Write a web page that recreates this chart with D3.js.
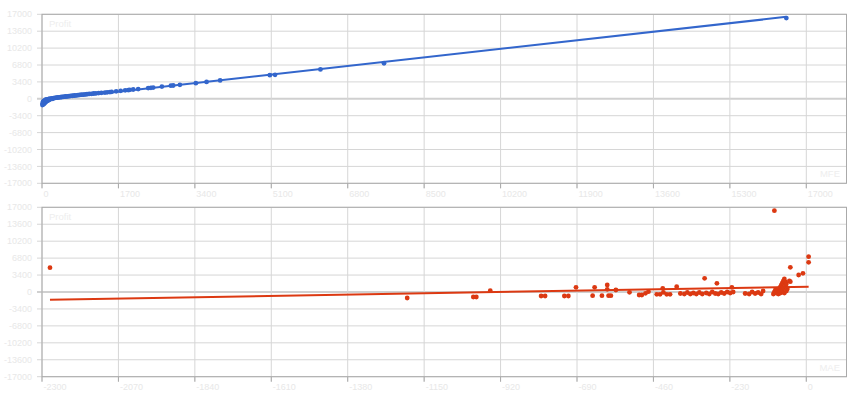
<!DOCTYPE html>
<html><head><meta charset="utf-8">
<script src="https://cdn.jsdelivr.net/npm/d3@7/dist/d3.min.js"></script>
<style>
body{margin:0;background:#fff}
text{font-family:Arial,"Liberation Sans",sans-serif}
</style>
</head><body>
<svg id="c" width="860" height="400"></svg>
<script>
// ---- data ----
const yTicks = [17000, 13600, 10200, 6800, 3400, 0, -3400, -6800, -10200, -13600, -17000];
const mfeTicks = [0, 1700, 3400, 5100, 6800, 8500, 10200, 11900, 13600, 15300, 17000];
const maeTicks = [-2300, -2070, -1840, -1610, -1380, -1150, -920, -690, -460, -230, 0];

// Top panel: Profit vs MFE
const mfe = [10,25,15,40,30,55,20,45,70,35,60,85,50,75,100,65,90,120,80,110,140,95,130,160,150,180,200,170,220,240,
  260,290,320,350,380,410,440,470,500,530,560,600,640,680,720,760,800,840,880,920,960,1000,1050,1100,1150,1200,1260,1320,
  1400,1450,1511,1550,1650,1750,1850,1918,1950,2029,2140,2362,2422,2473,2666,2866,2918,3067,3422,3660,3962,5067,5184,6193,7607,16556];
const profitMfe = [-1250,-1100,-950,-1050,-800,-900,-650,-700,-750,-500,-550,-600,-400,-450,-500,-300,-350,-400,-200,-250,-300,-100,-150,-200,-50,-100,-20,40,80,10,
  150,180,230,260,300,330,360,400,430,470,500,530,580,610,660,690,740,770,820,850,900,930,980,1010,1070,1100,1160,1200,
  1250,1300,1360,1400,1500,1600,1700,1760,1800,1870,1950,2150,2200,2250,2450,2640,2680,2820,3150,3400,3700,4750,4820,5900,7150,16250];

// Bottom panel: Profit vs MAE
const mae = [-2276,-1201,-1002,-993,-951,-798,-786,-728,-716,-693,-643,-637,-615,-595,-588,-599,-599,-573,-532,-503,-495,-484,-475,
  -450,-440,-430,-420,-410,-432,-390,-379,-367,-358,-349,-340,-331,-322,-313,-306,-301,-292,-283,-274,-269,-265,-256,-247,-238,-229,-224,-220,
  -184,-172,-163,-154,-145,-136,-130,-96,-99,-96,-93,-90,-87,-84,-84,-81,-78,-78,-75,-75,-72,-72,-69,-69,-66,-66,-63,-63,-60,-57,-51,-48,-60,-48,-23,-10,7,7];
const profitMae = [4877,-1204,-1004,-1004,261,-803,-803,-803,-803,943,-743,943,-743,-743,-743,1405,542,401,-60,-602,-602,-261,60,
  -462,-462,-60,-462,-462,743,1064,-301,-401,-100,-401,-200,-401,-100,-401,2750,-200,-401,0,-301,1746,-401,-100,-301,0,-200,943,0,
  -301,-401,0,-301,-100,-401,200,16317,-401,0,401,-200,200,602,-401,0,1004,-200,1405,401,1806,0,2208,803,2609,-200,2007,1204,1606,602,2208,4957,200,2067,3412,3753,7085,5961];

// ---- drawing ----
const svg = d3.select("#c");
const L = 42, R = 846.5;
const faint = "#e8e8e8";

function panel(top, bottom, xDomain, xTicks, xs, ys, color, yTitle, xTitle) {
  const x = d3.scaleLinear().domain(xDomain).range([L, R]);
  const y = d3.scaleLinear().domain([-17000, 17000]).range([bottom, top]);
  const g = svg.append("g");

  // horizontal gridlines + left ticks
  g.selectAll(".hg").data(yTicks).enter().append("line")
    .attr("x1", L - 5).attr("x2", R)
    .attr("y1", d => y(d)).attr("y2", d => y(d))
    .attr("stroke", d => d === 0 ? "#d0d0d0" : "#d6d6d6")
    .attr("stroke-width", d => d === 0 ? 2 : 1);
  // vertical gridlines + bottom ticks
  g.selectAll(".vg").data(xTicks).enter().append("line")
    .attr("x1", d => x(d)).attr("x2", d => x(d))
    .attr("y1", top).attr("y2", bottom + 5)
    .attr("stroke", "#d6d6d6").attr("stroke-width", 1);
  // bottom tick marks darker
  g.selectAll(".bt").data(xTicks).enter().append("line")
    .attr("x1", d => x(d)).attr("x2", d => x(d))
    .attr("y1", bottom).attr("y2", bottom + 5)
    .attr("stroke", "#aaa");
  // frame
  g.append("rect").attr("x", L).attr("y", top).attr("width", R - L).attr("height", bottom - top)
    .attr("fill", "none").attr("stroke", "#aaa").attr("stroke-width", 1);

  // y labels
  g.selectAll(".yl").data(yTicks).enter().append("text")
    .attr("x", 32).attr("y", d => y(d)).attr("dy", "0.35em")
    .attr("text-anchor", "end").attr("font-size", 9).attr("fill", faint)
    .text(d => d);
  // x labels
  g.selectAll(".xl").data(xTicks).enter().append("text")
    .attr("x", d => x(d) + 1.5).attr("y", bottom + 13.7)
    .attr("font-size", 9).attr("fill", faint)
    .text(d => d);

  g.append("text").attr("x", 49).attr("y", top + 12.3).attr("font-size", 9.5).attr("fill", "#eeeeee").text(yTitle);
  g.append("text").attr("x", 840).attr("y", bottom - 6).attr("text-anchor", "end")
    .attr("font-size", 9.5).attr("fill", "#eeeeee").text(xTitle);

  // trendline (least squares)
  const n = xs.length;
  const mx = d3.mean(xs), my = d3.mean(ys);
  let sxy = 0, sxx = 0;
  for (let i = 0; i < n; i++) { sxy += (xs[i] - mx) * (ys[i] - my); sxx += (xs[i] - mx) ** 2; }
  const b = sxy / sxx, a = my - b * mx;
  const [x0, x1] = d3.extent(xs);
  g.append("line")
    .attr("x1", x(x0)).attr("y1", y(a + b * x0))
    .attr("x2", x(x1)).attr("y2", y(a + b * x1))
    .attr("stroke", color).attr("stroke-width", 2);

  // points
  g.selectAll(".pt").data(xs.map((v, i) => [v, ys[i]])).enter().append("circle")
    .attr("cx", d => x(d[0])).attr("cy", d => y(d[1])).attr("r", 2.4)
    .attr("fill", color);
}

panel(14.3, 183.3, [0, 17894], mfeTicks, mfe, profitMfe, "#3366cc", "Profit", "MFE");
panel(207.3, 376.7, [-2300, 121], maeTicks, mae, profitMae, "#dc3912", "Profit", "MAE");
</script>
</body></html>
